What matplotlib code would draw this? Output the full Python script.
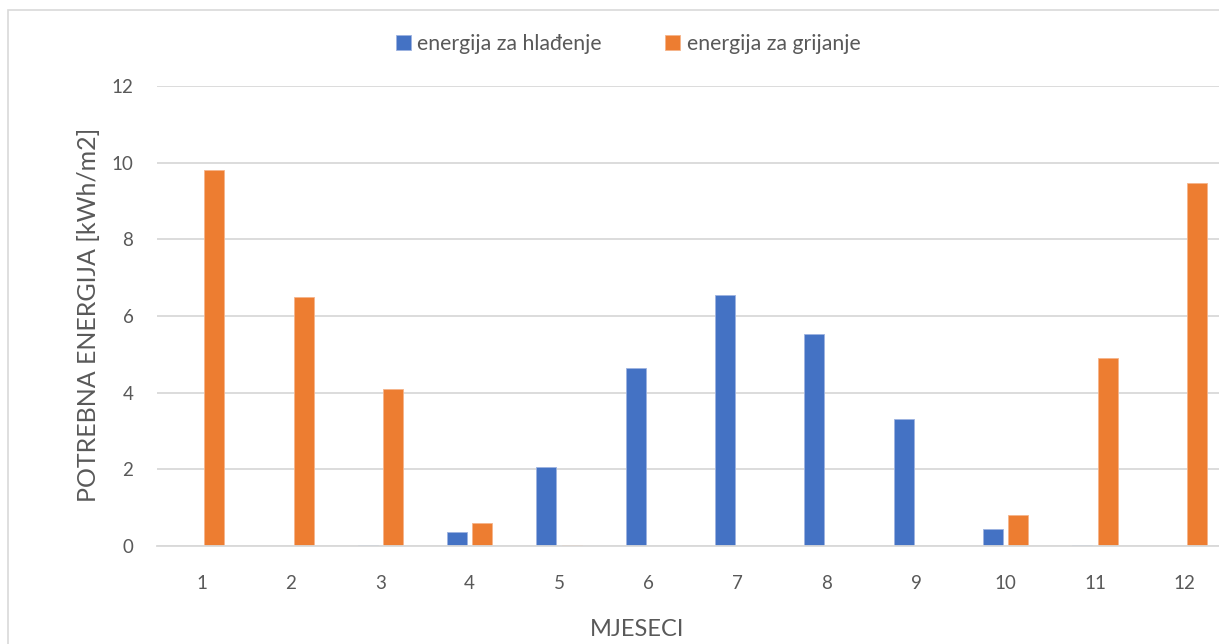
import matplotlib.pyplot as plt
import numpy as np
from matplotlib.patches import Rectangle

# data
mjeseci = [str(m) for m in range(1, 13)]
hladjenje = [0, 0, 0.03, 0.37, 2.05, 4.64, 6.54, 5.54, 3.32, 0.44, 0.02, 0]
grijanje = [9.8, 6.5, 4.1, 0.61, 0.02, 0, 0, 0, 0, 0.81, 4.9, 9.47]

plavo = '#4472C4'
narancasto = '#ED7D31'
siva = '#595959'

plt.rcParams['font.family'] = ['Lato', 'DejaVu Sans']

W, H = 1219, 644
fig = plt.figure(figsize=(W / 100, H / 100), dpi=100)

# plot area is cropped at the right edge in the original
x0, x1, y0, y1 = 157, 1229, 86, 546
ax = fig.add_axes([x0 / W, 1 - y1 / H, (x1 - x0) / W, (y1 - y0) / H])

# chart border (only left and top visible)
fig.patches.append(Rectangle((8 / W, -0.1), 1.2, 1 - 10 / H + 0.1,
                             transform=fig.transFigure, fill=False,
                             edgecolor='#d9d9d9', linewidth=1.2))

x = np.arange(len(mjeseci))
w = 0.224
off = 0.14
ax.bar(x - off, hladjenje, w, color=plavo, edgecolor='#9db3e0', linewidth=0.6,
       label='energija za hlađenje', zorder=3)
ax.bar(x + off, grijanje, w, color=narancasto, edgecolor='#f5b48a', linewidth=0.6,
       label='energija za grijanje', zorder=3)

ax.set_xlim(-0.5, len(mjeseci) - 0.5)
ax.set_ylim(0, 12)
ax.set_yticks(range(0, 13, 2))
ax.set_xticks(x)
ax.set_xticklabels(mjeseci)

ax.grid(axis='y', color='#d9d9d9', linewidth=1.3, zorder=0)
for s in ['top', 'right', 'left']:
    ax.spines[s].set_visible(False)
ax.spines['bottom'].set_color('#d9d9d9')
ax.spines['bottom'].set_linewidth(1.3)
ax.spines['bottom'].set_zorder(4)
ax.tick_params(axis='both', length=0, labelsize=13.5, labelcolor=siva)
ax.tick_params(axis='x', pad=21)
ax.tick_params(axis='y', pad=17)

fig.text(88 / W, 1 - 315 / H, 'POTREBNA ENERGIJA [kWh/m2]', rotation=90,
         ha='center', va='center', fontsize=18, color=siva)
fig.text(637 / W, 1 - 630 / H, 'MJESECI', ha='center', va='center',
         fontsize=17, color=siva)

fig.legend(loc='center', bbox_to_anchor=(628 / W, 1 - 44 / H), ncol=2,
           frameon=False, fontsize=15.3, labelcolor=siva,
           handlelength=0.7, handleheight=0.7, handletextpad=0.3,
           columnspacing=3.0)

fig.savefig('out.png', dpi=100)
